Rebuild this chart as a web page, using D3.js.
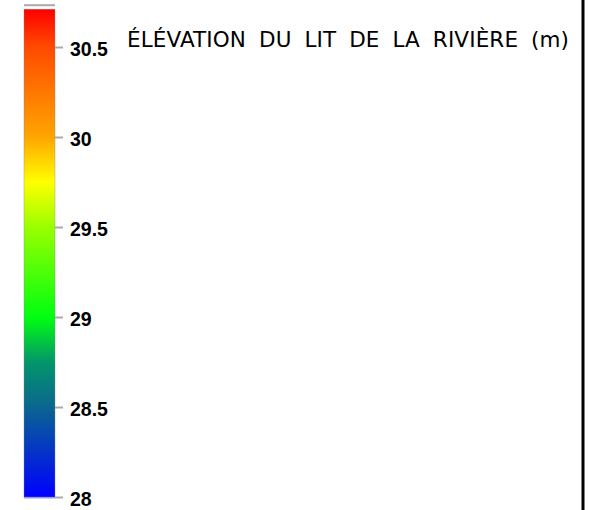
<!DOCTYPE html>
<html><head><meta charset="utf-8">
<script src="https://cdn.jsdelivr.net/npm/d3@7"></script>
<style>body{margin:0;background:#fff}svg{display:block}</style>
</head><body>
<script>
const title = "ÉLÉVATION DU LIT DE LA RIVIÈRE (m)";
const tickValues = [28, 28.5, 29, 29.5, 30, 30.5];
const tickLabels = ["28", "28.5", "29", "29.5", "30", "30.5"];
const domainMin = 28, domainMax = 30.71;
const stopValues = [28, 28.5, 28.75, 29, 29.5, 29.75, 30, 30.5, 30.71];
const stopColors = ["#0000ff", "#0a6690", "#03966a", "#00ff10", "#9aff00", "#ffff00", "#ffa500", "#ff4a00", "#ff0000"];

const W = 590, H = 510;
const svg = d3.select("body").append("svg").attr("width", W).attr("height", H);

const y = d3.scaleLinear().domain([28, 30.5]).range([497, 47]);
const barX = 24, barW = 31;

const defs = svg.append("defs");
const grad = defs.append("linearGradient").attr("id", "cb")
  .attr("x1", 0).attr("y1", 1).attr("x2", 0).attr("y2", 0);
stopValues.forEach((v, i) => {
  grad.append("stop")
    .attr("offset", (v - domainMin) / (domainMax - domainMin))
    .attr("stop-color", stopColors[i]);
});

svg.append("rect").attr("x", barX).attr("y", y(domainMax) - 5).attr("width", barW).attr("height", 2).attr("fill", "#aaaaaa");
svg.append("rect").attr("x", barX).attr("y", y(domainMax)).attr("width", barW)
  .attr("height", y(domainMin) - y(domainMax)).attr("fill", "url(#cb)")
  .attr("stroke", "#888").attr("stroke-width", 0.6).attr("stroke-opacity", 0.6);
svg.append("rect").attr("x", barX).attr("y", y(domainMin)).attr("width", barW).attr("height", 1.5).attr("fill", "#9999ee");

const axis = d3.axisRight(y).tickValues(tickValues)
  .tickFormat((d, i) => tickLabels[i]).tickSize(8).tickPadding(7);
const ax = svg.append("g").attr("transform", `translate(${barX + barW},0)`).call(axis);
ax.select(".domain").remove();
ax.selectAll(".tick line").attr("stroke", "#aaaaaa").attr("stroke-width", 2);
ax.selectAll(".tick text").attr("fill", "#000").attr("font-family", "Liberation Sans, Arial, sans-serif")
  .attr("font-weight", "bold").attr("font-size", 19.5).attr("dy", "0.45em");

svg.append("text").attr("x", 127).attr("y", 47).text(title)
  .attr("font-family", "DejaVu Sans, sans-serif").attr("font-weight", "normal")
  .attr("font-size", 21.5).attr("fill", "#000")
  .style("word-spacing", "6px")
  .attr("textLength", 442).attr("lengthAdjust", "spacing");

svg.append("line").attr("x1", 583).attr("x2", 583).attr("y1", 0).attr("y2", H)
  .attr("stroke", "#000").attr("stroke-width", 3);
</script>
</body></html>
